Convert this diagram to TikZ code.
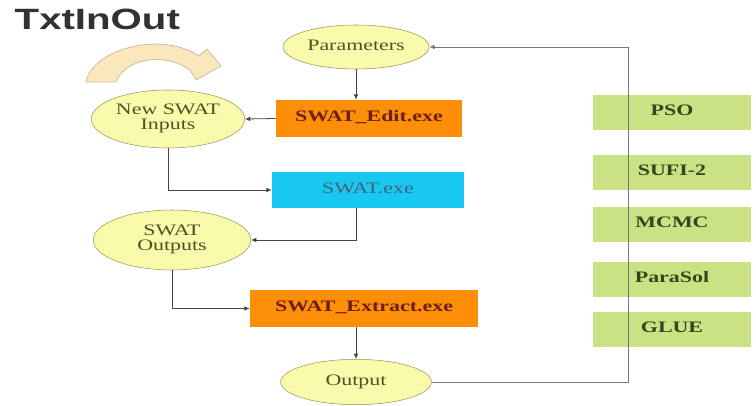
\documentclass[tikz,border=0pt]{standalone}
\usepackage{fontspec}
\setmainfont{Liberation Serif}
\newfontfamily\titlefont{Liberation Sans}
\usepackage{graphicx}
\usetikzlibrary{arrows.meta, shapes.geometric, positioning}

\definecolor{bubblefill}{RGB}{250,250,172}
\definecolor{bubbleline}{RGB}{150,150,90}
\definecolor{bubbletext}{RGB}{80,80,35}
\definecolor{exeorange}{RGB}{252,142,8}
\definecolor{exetext}{RGB}{110,30,20}
\definecolor{execyan}{RGB}{24,200,240}
\definecolor{cyantext}{RGB}{70,95,120}
\definecolor{algfill}{RGB}{200,226,132}
\definecolor{algtext}{RGB}{50,70,30}
\definecolor{linkgray}{RGB}{70,70,70}
\definecolor{turnfill}{RGB}{250,232,188}
\definecolor{turnline}{RGB}{200,190,160}

% stretched text, as in the slide
\newcommand{\wide}[1]{\scalebox{1.37}[1]{\begin{tabular}{@{}c@{}}#1\end{tabular}}}

\begin{document}
\begin{tikzpicture}[x=0.75pt, y=-0.75pt,
    bubble/.style={ellipse, draw=bubbleline, fill=bubblefill, text=bubbletext,
        inner sep=0pt, font=\fontsize{12}{11.5}\selectfont},
    exebox/.style={rectangle, fill=exeorange, text=exetext, inner sep=0pt,
        minimum height=27.75pt, font=\fontsize{12}{12}\selectfont\bfseries},
    algbox/.style={rectangle, fill=algfill, text=algtext, inner sep=0pt,
        minimum width=119pt, minimum height=26pt, font=\fontsize{12}{12}\selectfont\bfseries},
    link/.style={draw=linkgray, line width=0.6pt, -{Latex[length=4pt,width=3.5pt]}}]
    \useasboundingbox (0,0) rectangle (756,406);

    % Tieu de
    \node[anchor=west, text={rgb,255:red,50;green,50;blue,50},
        font=\titlefont\fontsize{22}{22}\selectfont\bfseries] (title) at (10,24) {\wide{TxtInOut}};

    % Mui ten cong
    \draw[fill=turnfill, draw=turnline, line width=0.6pt, line join=round]
        (86,82) .. controls (92,50) and (160,30) .. (199,56) -- (207,49) -- (221,66)
        -- (196,80) -- (190,70) .. controls (165,52) and (125,58) .. (116,82) -- cycle;

    % Cac nut
    \node[bubble, minimum width=109.5pt, minimum height=33pt] (param) at (356,47) {\wide{Parameters}};
    \node[exebox, minimum width=139.5pt] (editexe) at (369,118.5) {\wide{SWAT\_Edit.exe}};
    \node[bubble, minimum width=115pt, minimum height=43.5pt] (newin) at (168,119) {\wide{New SWAT\\Inputs}};
    \node[exebox, fill=execyan, text=cyantext, minimum width=144pt, minimum height=27pt,
        font=\fontsize{12}{12}\selectfont] (swatexe) at (368,190) {\wide{SWAT.exe}};
    \node[bubble, minimum width=118pt, minimum height=45pt] (swatout) at (172,240) {\wide{SWAT\\Outputs}};
    \node[exebox, minimum width=171pt] (extract) at (364,308.5) {\wide{SWAT\_Extract.exe}};
    \node[bubble, minimum width=113pt, minimum height=34pt] (output) at (356,382) {\wide{Output}};

    % Cac thuat toan
    \node[algbox] (pso) at (672,112.5) {\wide{PSO}};
    \node[algbox] (sufi) at (672,172.5) {\wide{SUFI-2}};
    \node[algbox] (mcmc) at (672,224.5) {\wide{MCMC}};
    \node[algbox] (parasol) at (672,279.5) {\wide{ParaSol}};
    \node[algbox] (glue) at (672,329.5) {\wide{GLUE}};

    % Duong noi
    \draw[link] (param.south) -- (param.south |- editexe.north);
    \draw[link] (editexe.west) -- (newin.east);
    \draw[link] (newin.south) |- (swatexe.west);
    \draw[link] (swatexe.south -| param) |- (swatout.east);
    \draw[link] (swatout.south) |- (extract.west);
    \draw[link] (extract.south -| output) -- (output.north);
    \coordinate (loop) at (628,47);
    \draw[link, draw={rgb,255:red,120;green,120;blue,120}] (output.east) -| (loop) -- (param.east);
\end{tikzpicture}
\end{document}
